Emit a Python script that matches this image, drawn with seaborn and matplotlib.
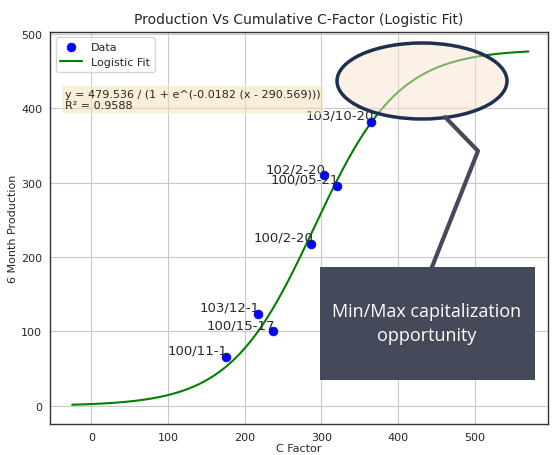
import numpy as np
import matplotlib
matplotlib.use("Agg")
import matplotlib.pyplot as plt
import seaborn as sns
from matplotlib.patches import Ellipse, Rectangle

# data
c_factor = [175, 217, 237, 286, 303, 320, 365]
production = [66, 124, 100, 218, 310, 296, 382]
labels = ["100/11-1", "103/12-1", "100/15-17", "100/2-20", "102/2-20", "100/05-21", "103/10-20"]

# logistic fit parameters shown in the chart
L, k, x0 = 479.536, 0.0182, 290.569
r2 = 0.9588

sns.set_style("whitegrid")
plt.rcParams['font.family'] = ['DejaVu Sans']

fig = plt.figure(figsize=(5.55, 4.56), dpi=100)
ax = fig.add_axes([0.09, 0.067, 0.898, 0.861])

sns.scatterplot(x=c_factor, y=production, color='blue', s=40, edgecolor='blue',
                label='Data', ax=ax, zorder=3)
xs = np.linspace(-25, 570, 300)
sns.lineplot(x=xs, y=L / (1 + np.exp(-k * (xs - x0))), color='green', label='Logistic Fit', ax=ax)

for x, y, t in zip(c_factor, production, labels):
    ax.text(x + 3, y, t, ha='right', va='bottom', fontsize=9.5)

ax.set_xlim(-54, 596)
ax.set_ylim(-25, 503)
ax.set_xticks([0, 100, 200, 300, 400, 500])
ax.set_yticks([0, 100, 200, 300, 400, 500])
ax.tick_params(labelsize=8, pad=2)
ax.set_xlabel('C Factor', fontsize=8, labelpad=1)
ax.set_ylabel('6 Month Production', fontsize=8, labelpad=2)
ax.set_title('Production Vs Cumulative C-Factor (Logistic Fit)', fontsize=10)
for s in ax.spines.values():
    s.set_edgecolor('#333333')
    s.set_linewidth(1)
ax.grid(color='#c8c8c8')
leg = ax.legend(loc='upper left', fontsize=8, frameon=True)
leg.get_frame().set_edgecolor('#cccccc')
ax.text(0.03, 0.855, 'y = %.3f / (1 + e^(-%.4f (x - %.3f)))\nR² = %.4f' % (L, k, x0, r2),
        transform=ax.transAxes, fontsize=8, va='top',
        bbox=dict(boxstyle='round', facecolor='wheat', alpha=0.5))

# overlay callout in pixel coords
W, H = 555, 456
def fx(px): return px / W
def fy(py): return 1 - py / H

fig.add_artist(Ellipse((fx(422), fy(82)), 170 / W, 76 / H, transform=fig.transFigure,
                       facecolor='#fbe5d0', alpha=0.5, edgecolor='none'))
fig.add_artist(Ellipse((fx(422), fy(82)), 170 / W, 76 / H, transform=fig.transFigure,
                       facecolor='none', edgecolor='#1f2f4f', linewidth=2.5))
fig.add_artist(plt.Line2D([fx(445), fx(478), fx(432)], [fy(118), fy(152), fy(268)],
                          transform=fig.transFigure, color='#454a5a', linewidth=3))
fig.add_artist(Rectangle((fx(320), fy(381)), 215 / W, 113 / H, transform=fig.transFigure,
                         facecolor='#454a5a', edgecolor='none'))
fig.text(fx(427), fy(324), 'Min/Max capitalization\nopportunity', color='white',
         ha='center', va='center', fontsize=13, family=['Open Sans', 'DejaVu Sans'],
         linespacing=1.4)

fig.savefig('out.png', dpi=100)
